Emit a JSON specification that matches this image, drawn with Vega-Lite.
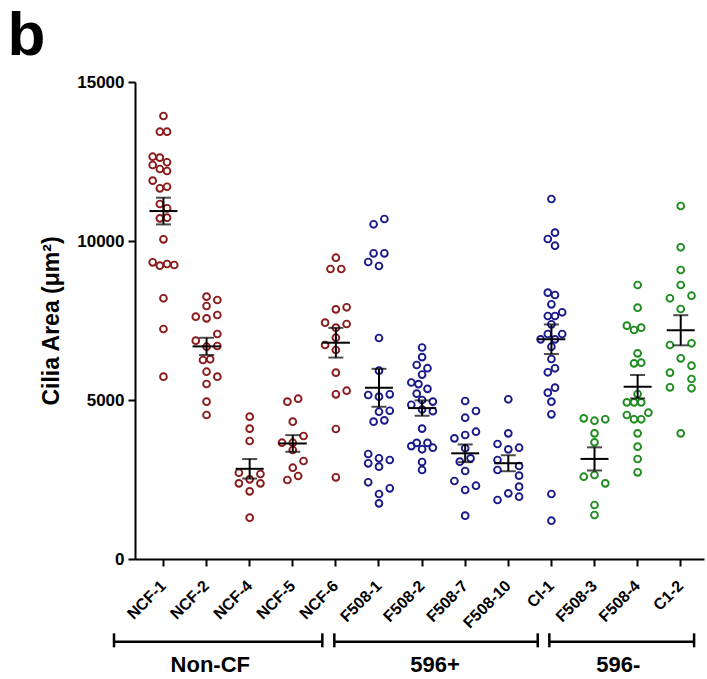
{
  "$schema": "https://vega.github.io/schema/vega-lite/v6.json",
  "autosize": {"type": "none"},
  "padding": {"left": 135, "top": 82, "right": 3, "bottom": 120},
  "width": 569,
  "height": 477,
  "background": "white",
  "config": {
    "view": {"stroke": null},
    "font": "Liberation Sans",
    "axis": {
      "domainColor": "black", "domainWidth": 2,
      "tickColor": "black", "tickWidth": 2, "tickSize": 7,
      "grid": false,
      "labelColor": "black", "labelFont": "Liberation Sans", "labelFontWeight": "bold",
      "titleColor": "black", "titleFont": "Liberation Sans", "titleFontWeight": "bold"
    }
  },
  "datasets": {
    "cells": [
      {"sample":"NCF-1","group":"Non-CF","area":13931,"slot":0},
      {"sample":"NCF-1","group":"Non-CF","area":13437,"slot":-1},
      {"sample":"NCF-1","group":"Non-CF","area":13437,"slot":1},
      {"sample":"NCF-1","group":"Non-CF","area":12651,"slot":-3},
      {"sample":"NCF-1","group":"Non-CF","area":12620,"slot":-1},
      {"sample":"NCF-1","group":"Non-CF","area":12475,"slot":1},
      {"sample":"NCF-1","group":"Non-CF","area":12390,"slot":-3},
      {"sample":"NCF-1","group":"Non-CF","area":12264,"slot":-1},
      {"sample":"NCF-1","group":"Non-CF","area":12201,"slot":1},
      {"sample":"NCF-1","group":"Non-CF","area":11897,"slot":-3},
      {"sample":"NCF-1","group":"Non-CF","area":11657,"slot":-1},
      {"sample":"NCF-1","group":"Non-CF","area":11707,"slot":1},
      {"sample":"NCF-1","group":"Non-CF","area":11164,"slot":-1},
      {"sample":"NCF-1","group":"Non-CF","area":11028,"slot":1},
      {"sample":"NCF-1","group":"Non-CF","area":10713,"slot":-1},
      {"sample":"NCF-1","group":"Non-CF","area":10733,"slot":1},
      {"sample":"NCF-1","group":"Non-CF","area":10053,"slot":0},
      {"sample":"NCF-1","group":"Non-CF","area":9330,"slot":-3},
      {"sample":"NCF-1","group":"Non-CF","area":9223,"slot":-1},
      {"sample":"NCF-1","group":"Non-CF","area":9277,"slot":1},
      {"sample":"NCF-1","group":"Non-CF","area":9245,"slot":3},
      {"sample":"NCF-1","group":"Non-CF","area":8198,"slot":0},
      {"sample":"NCF-1","group":"Non-CF","area":7233,"slot":0},
      {"sample":"NCF-1","group":"Non-CF","area":5733,"slot":0},
      {"sample":"NCF-2","group":"Non-CF","area":8249,"slot":0},
      {"sample":"NCF-2","group":"Non-CF","area":8145,"slot":3},
      {"sample":"NCF-2","group":"Non-CF","area":7956,"slot":0},
      {"sample":"NCF-2","group":"Non-CF","area":7620,"slot":-3},
      {"sample":"NCF-2","group":"Non-CF","area":7568,"slot":0},
      {"sample":"NCF-2","group":"Non-CF","area":7673,"slot":3},
      {"sample":"NCF-2","group":"Non-CF","area":7075,"slot":3},
      {"sample":"NCF-2","group":"Non-CF","area":6865,"slot":-3},
      {"sample":"NCF-2","group":"Non-CF","area":6676,"slot":0},
      {"sample":"NCF-2","group":"Non-CF","area":6698,"slot":3},
      {"sample":"NCF-2","group":"Non-CF","area":6258,"slot":-1},
      {"sample":"NCF-2","group":"Non-CF","area":6280,"slot":1},
      {"sample":"NCF-2","group":"Non-CF","area":5890,"slot":0},
      {"sample":"NCF-2","group":"Non-CF","area":5733,"slot":3},
      {"sample":"NCF-2","group":"Non-CF","area":5503,"slot":0},
      {"sample":"NCF-2","group":"Non-CF","area":4947,"slot":0},
      {"sample":"NCF-2","group":"Non-CF","area":4528,"slot":0},
      {"sample":"NCF-4","group":"Non-CF","area":4476,"slot":0},
      {"sample":"NCF-4","group":"Non-CF","area":4099,"slot":0},
      {"sample":"NCF-4","group":"Non-CF","area":3711,"slot":0},
      {"sample":"NCF-4","group":"Non-CF","area":2714,"slot":-3},
      {"sample":"NCF-4","group":"Non-CF","area":2673,"slot":3},
      {"sample":"NCF-4","group":"Non-CF","area":2505,"slot":0},
      {"sample":"NCF-4","group":"Non-CF","area":2379,"slot":-3},
      {"sample":"NCF-4","group":"Non-CF","area":2379,"slot":3},
      {"sample":"NCF-4","group":"Non-CF","area":2128,"slot":0},
      {"sample":"NCF-4","group":"Non-CF","area":1299,"slot":0},
      {"sample":"NCF-5","group":"Non-CF","area":4947,"slot":-1.5},
      {"sample":"NCF-5","group":"Non-CF","area":5041,"slot":1.5},
      {"sample":"NCF-5","group":"Non-CF","area":4318,"slot":0},
      {"sample":"NCF-5","group":"Non-CF","area":3868,"slot":3},
      {"sample":"NCF-5","group":"Non-CF","area":3657,"slot":-3},
      {"sample":"NCF-5","group":"Non-CF","area":3657,"slot":0},
      {"sample":"NCF-5","group":"Non-CF","area":3428,"slot":0},
      {"sample":"NCF-5","group":"Non-CF","area":3082,"slot":3},
      {"sample":"NCF-5","group":"Non-CF","area":2871,"slot":0},
      {"sample":"NCF-5","group":"Non-CF","area":2610,"slot":1.5},
      {"sample":"NCF-5","group":"Non-CF","area":2484,"slot":-1.5},
      {"sample":"NCF-6","group":"Non-CF","area":9475,"slot":0},
      {"sample":"NCF-6","group":"Non-CF","area":9119,"slot":-1.5},
      {"sample":"NCF-6","group":"Non-CF","area":9119,"slot":1.5},
      {"sample":"NCF-6","group":"Non-CF","area":7851,"slot":0},
      {"sample":"NCF-6","group":"Non-CF","area":7915,"slot":3},
      {"sample":"NCF-6","group":"Non-CF","area":7431,"slot":-3},
      {"sample":"NCF-6","group":"Non-CF","area":7274,"slot":0},
      {"sample":"NCF-6","group":"Non-CF","area":7390,"slot":3},
      {"sample":"NCF-6","group":"Non-CF","area":6730,"slot":-3},
      {"sample":"NCF-6","group":"Non-CF","area":6959,"slot":0},
      {"sample":"NCF-6","group":"Non-CF","area":6572,"slot":0},
      {"sample":"NCF-6","group":"Non-CF","area":5859,"slot":0},
      {"sample":"NCF-6","group":"Non-CF","area":5179,"slot":0},
      {"sample":"NCF-6","group":"Non-CF","area":5292,"slot":3},
      {"sample":"NCF-6","group":"Non-CF","area":4088,"slot":0},
      {"sample":"NCF-6","group":"Non-CF","area":2569,"slot":0},
      {"sample":"F508-1","group":"596+","area":10525,"slot":-1.5},
      {"sample":"F508-1","group":"596+","area":10692,"slot":1.5},
      {"sample":"F508-1","group":"596+","area":9613,"slot":-1.5},
      {"sample":"F508-1","group":"596+","area":9613,"slot":1.5},
      {"sample":"F508-1","group":"596+","area":9340,"slot":-3},
      {"sample":"F508-1","group":"596+","area":9214,"slot":0},
      {"sample":"F508-1","group":"596+","area":6950,"slot":0},
      {"sample":"F508-1","group":"596+","area":5922,"slot":0},
      {"sample":"F508-1","group":"596+","area":5157,"slot":-3},
      {"sample":"F508-1","group":"596+","area":5104,"slot":0},
      {"sample":"F508-1","group":"596+","area":5179,"slot":3},
      {"sample":"F508-1","group":"596+","area":4632,"slot":0},
      {"sample":"F508-1","group":"596+","area":4663,"slot":3},
      {"sample":"F508-1","group":"596+","area":4318,"slot":-1.5},
      {"sample":"F508-1","group":"596+","area":4361,"slot":1.5},
      {"sample":"F508-1","group":"596+","area":3302,"slot":-3},
      {"sample":"F508-1","group":"596+","area":3167,"slot":0},
      {"sample":"F508-1","group":"596+","area":3113,"slot":3},
      {"sample":"F508-1","group":"596+","area":3009,"slot":-3},
      {"sample":"F508-1","group":"596+","area":2903,"slot":0},
      {"sample":"F508-1","group":"596+","area":2412,"slot":-3},
      {"sample":"F508-1","group":"596+","area":2044,"slot":0},
      {"sample":"F508-1","group":"596+","area":2223,"slot":3},
      {"sample":"F508-1","group":"596+","area":1751,"slot":0},
      {"sample":"F508-2","group":"596+","area":6650,"slot":0},
      {"sample":"F508-2","group":"596+","area":6350,"slot":0},
      {"sample":"F508-2","group":"596+","area":6100,"slot":-1.5},
      {"sample":"F508-2","group":"596+","area":6000,"slot":1.5},
      {"sample":"F508-2","group":"596+","area":5800,"slot":0},
      {"sample":"F508-2","group":"596+","area":5550,"slot":-3},
      {"sample":"F508-2","group":"596+","area":5500,"slot":-1},
      {"sample":"F508-2","group":"596+","area":5350,"slot":1.5},
      {"sample":"F508-2","group":"596+","area":5200,"slot":-1.5},
      {"sample":"F508-2","group":"596+","area":5000,"slot":0},
      {"sample":"F508-2","group":"596+","area":4950,"slot":3},
      {"sample":"F508-2","group":"596+","area":4850,"slot":-3},
      {"sample":"F508-2","group":"596+","area":4700,"slot":0},
      {"sample":"F508-2","group":"596+","area":4650,"slot":3},
      {"sample":"F508-2","group":"596+","area":4100,"slot":0},
      {"sample":"F508-2","group":"596+","area":3650,"slot":-1.5},
      {"sample":"F508-2","group":"596+","area":3650,"slot":1.5},
      {"sample":"F508-2","group":"596+","area":3550,"slot":-3},
      {"sample":"F508-2","group":"596+","area":3500,"slot":3},
      {"sample":"F508-2","group":"596+","area":3450,"slot":0},
      {"sample":"F508-2","group":"596+","area":3050,"slot":0},
      {"sample":"F508-2","group":"596+","area":2800,"slot":0},
      {"sample":"F508-7","group":"596+","area":4969,"slot":0},
      {"sample":"F508-7","group":"596+","area":4654,"slot":3},
      {"sample":"F508-7","group":"596+","area":4443,"slot":0},
      {"sample":"F508-7","group":"596+","area":4003,"slot":3},
      {"sample":"F508-7","group":"596+","area":3899,"slot":0},
      {"sample":"F508-7","group":"596+","area":3795,"slot":-3},
      {"sample":"F508-7","group":"596+","area":3481,"slot":0},
      {"sample":"F508-7","group":"596+","area":3166,"slot":1.5},
      {"sample":"F508-7","group":"596+","area":3060,"slot":-1.5},
      {"sample":"F508-7","group":"596+","area":2767,"slot":0},
      {"sample":"F508-7","group":"596+","area":2453,"slot":-3},
      {"sample":"F508-7","group":"596+","area":2305,"slot":3},
      {"sample":"F508-7","group":"596+","area":2170,"slot":0},
      {"sample":"F508-7","group":"596+","area":1362,"slot":0},
      {"sample":"F508-10","group":"596+","area":5022,"slot":0},
      {"sample":"F508-10","group":"596+","area":3951,"slot":0},
      {"sample":"F508-10","group":"596+","area":3616,"slot":-3},
      {"sample":"F508-10","group":"596+","area":3449,"slot":0},
      {"sample":"F508-10","group":"596+","area":3500,"slot":3},
      {"sample":"F508-10","group":"596+","area":3113,"slot":-3},
      {"sample":"F508-10","group":"596+","area":2925,"slot":3},
      {"sample":"F508-10","group":"596+","area":2799,"slot":-3},
      {"sample":"F508-10","group":"596+","area":2620,"slot":3},
      {"sample":"F508-10","group":"596+","area":2274,"slot":3},
      {"sample":"F508-10","group":"596+","area":2065,"slot":0},
      {"sample":"F508-10","group":"596+","area":1959,"slot":3},
      {"sample":"F508-10","group":"596+","area":1855,"slot":-3},
      {"sample":"CI-1","group":"596+","area":11321,"slot":0},
      {"sample":"CI-1","group":"596+","area":10262,"slot":1},
      {"sample":"CI-1","group":"596+","area":10063,"slot":-1},
      {"sample":"CI-1","group":"596+","area":9852,"slot":1},
      {"sample":"CI-1","group":"596+","area":8375,"slot":-1},
      {"sample":"CI-1","group":"596+","area":8302,"slot":1},
      {"sample":"CI-1","group":"596+","area":8009,"slot":0},
      {"sample":"CI-1","group":"596+","area":7642,"slot":-1},
      {"sample":"CI-1","group":"596+","area":7642,"slot":1},
      {"sample":"CI-1","group":"596+","area":7758,"slot":3},
      {"sample":"CI-1","group":"596+","area":7380,"slot":0},
      {"sample":"CI-1","group":"596+","area":7075,"slot":-1},
      {"sample":"CI-1","group":"596+","area":7075,"slot":3},
      {"sample":"CI-1","group":"596+","area":6907,"slot":-3},
      {"sample":"CI-1","group":"596+","area":6907,"slot":1},
      {"sample":"CI-1","group":"596+","area":6676,"slot":0},
      {"sample":"CI-1","group":"596+","area":6289,"slot":0},
      {"sample":"CI-1","group":"596+","area":5997,"slot":1},
      {"sample":"CI-1","group":"596+","area":5871,"slot":-1},
      {"sample":"CI-1","group":"596+","area":5387,"slot":1},
      {"sample":"CI-1","group":"596+","area":5230,"slot":-1},
      {"sample":"CI-1","group":"596+","area":4947,"slot":0},
      {"sample":"CI-1","group":"596+","area":4550,"slot":0},
      {"sample":"CI-1","group":"596+","area":2044,"slot":0},
      {"sample":"CI-1","group":"596+","area":1204,"slot":0},
      {"sample":"F508-3","group":"596-","area":4424,"slot":-3},
      {"sample":"F508-3","group":"596-","area":4349,"slot":0},
      {"sample":"F508-3","group":"596-","area":4393,"slot":3},
      {"sample":"F508-3","group":"596-","area":3951,"slot":0},
      {"sample":"F508-3","group":"596-","area":3668,"slot":0},
      {"sample":"F508-3","group":"596-","area":2588,"slot":-3},
      {"sample":"F508-3","group":"596-","area":2642,"slot":0},
      {"sample":"F508-3","group":"596-","area":2379,"slot":3},
      {"sample":"F508-3","group":"596-","area":1698,"slot":0},
      {"sample":"F508-3","group":"596-","area":1384,"slot":0},
      {"sample":"F508-4","group":"596-","area":8616,"slot":0},
      {"sample":"F508-4","group":"596-","area":7903,"slot":0},
      {"sample":"F508-4","group":"596-","area":7338,"slot":-3},
      {"sample":"F508-4","group":"596-","area":7201,"slot":-1},
      {"sample":"F508-4","group":"596-","area":7274,"slot":1},
      {"sample":"F508-4","group":"596-","area":6468,"slot":0},
      {"sample":"F508-4","group":"596-","area":6153,"slot":-1},
      {"sample":"F508-4","group":"596-","area":6174,"slot":1},
      {"sample":"F508-4","group":"596-","area":5189,"slot":0},
      {"sample":"F508-4","group":"596-","area":4927,"slot":-3},
      {"sample":"F508-4","group":"596-","area":4927,"slot":-1},
      {"sample":"F508-4","group":"596-","area":4927,"slot":1},
      {"sample":"F508-4","group":"596-","area":4528,"slot":-3},
      {"sample":"F508-4","group":"596-","area":4393,"slot":-1},
      {"sample":"F508-4","group":"596-","area":4393,"slot":1},
      {"sample":"F508-4","group":"596-","area":4601,"slot":3},
      {"sample":"F508-4","group":"596-","area":3951,"slot":0},
      {"sample":"F508-4","group":"596-","area":3532,"slot":0},
      {"sample":"F508-4","group":"596-","area":3145,"slot":0},
      {"sample":"F508-4","group":"596-","area":2726,"slot":0},
      {"sample":"C1-2","group":"596-","area":11101,"slot":0},
      {"sample":"C1-2","group":"596-","area":9802,"slot":0},
      {"sample":"C1-2","group":"596-","area":9088,"slot":0},
      {"sample":"C1-2","group":"596-","area":8616,"slot":0},
      {"sample":"C1-2","group":"596-","area":8198,"slot":-3},
      {"sample":"C1-2","group":"596-","area":8280,"slot":3},
      {"sample":"C1-2","group":"596-","area":7862,"slot":0},
      {"sample":"C1-2","group":"596-","area":6730,"slot":-3},
      {"sample":"C1-2","group":"596-","area":6783,"slot":3},
      {"sample":"C1-2","group":"596-","area":6311,"slot":0},
      {"sample":"C1-2","group":"596-","area":6079,"slot":3},
      {"sample":"C1-2","group":"596-","area":5859,"slot":-3},
      {"sample":"C1-2","group":"596-","area":5660,"slot":3},
      {"sample":"C1-2","group":"596-","area":5399,"slot":-3},
      {"sample":"C1-2","group":"596-","area":5368,"slot":3},
      {"sample":"C1-2","group":"596-","area":3951,"slot":0}
    ],
    "groups": [
      {"group":"Non-CF","from":-1.147,"to":3.686,"mid":1.087},
      {"group":"596+","from":3.964,"to":8.683,"mid":6.30},
      {"group":"596-","from":8.952,"to":12.31,"mid":10.553}
    ],
    "panel": [
      {"label":"b"}
    ]
  },
  "layer": [
    {
      "data": {"name": "cells"},
      "encoding": {
        "x": {
          "field": "sample", "type": "nominal",
          "sort": ["NCF-1","NCF-2","NCF-4","NCF-5","NCF-6","F508-1","F508-2","F508-7","F508-10","CI-1","F508-3","F508-4","C1-2"],
          "scale": {"paddingInner": 0, "paddingOuter": 0.1, "align": 0.8},
          "axis": {"title": null, "labelAngle": -45, "labelAlign": "right", "labelBaseline": "middle", "labelFontSize": 16, "labelPadding": 17}
        },
        "y": {
          "field": "area", "type": "quantitative",
          "scale": {"domain": [0, 15000], "nice": false, "zero": true},
          "axis": {"values": [0, 5000, 10000, 15000], "format": "d", "title": "Cilia Area (μm²)", "labelFontSize": 17, "labelPadding": 4, "titleFontSize": 23, "titlePadding": 13}
        }
      },
      "layer": [
        {
          "mark": {"type": "point", "shape": "circle", "filled": false, "size": 46, "strokeWidth": 1.9, "opacity": 1},
          "encoding": {
            "xOffset": {"field": "slot", "type": "quantitative", "scale": {"domain": [-6, 6]}},
            "color": {"field": "group", "type": "nominal", "scale": {"domain": ["Non-CF", "596+", "596-"], "range": ["#8b1a1a", "#1a1a8b", "#1e8c1e"]}, "legend": null}
          }
        },
        {
          "mark": {"type": "errorbar", "extent": "stderr", "color": "black", "ticks": {"size": 15, "thickness": 2, "color": "black"}, "rule": {"strokeWidth": 2, "color": "black"}}
        },
        {
          "mark": {"type": "tick", "size": 28, "thickness": 2, "color": "black"},
          "encoding": {"y": {"aggregate": "mean", "field": "area", "type": "quantitative"}}
        }
      ]
    },
    {
      "layer": [
        {
          "data": {"name": "groups"},
          "mark": {"type": "rule", "strokeWidth": 2.5, "color": "black"},
          "encoding": {
            "x": {"field": "from", "type": "quantitative", "scale": {"domain": [-0.66, 12.54], "nice": false, "zero": false}, "axis": null},
            "x2": {"field": "to"},
            "y": {"datum": -2600}
          }
        },
        {
          "data": {"name": "groups"},
          "mark": {"type": "rule", "strokeWidth": 2.5, "color": "black"},
          "encoding": {
            "x": {"field": "from", "type": "quantitative"},
            "y": {"datum": -2336},
            "y2": {"datum": -2777}
          }
        },
        {
          "data": {"name": "groups"},
          "mark": {"type": "rule", "strokeWidth": 2.5, "color": "black"},
          "encoding": {
            "x": {"field": "to", "type": "quantitative"},
            "y": {"datum": -2336},
            "y2": {"datum": -2777}
          }
        },
        {
          "data": {"name": "groups"},
          "mark": {"type": "text", "fontSize": 22, "fontWeight": "bold", "font": "Liberation Sans", "color": "black", "baseline": "middle", "align": "center"},
          "encoding": {
            "x": {"field": "mid", "type": "quantitative"},
            "y": {"datum": -3333},
            "text": {"field": "group"}
          }
        },
        {
          "data": {"name": "panel"},
          "mark": {"type": "text", "fontSize": 62, "fontWeight": "bold", "font": "Liberation Sans", "color": "black", "baseline": "alphabetic", "align": "center"},
          "encoding": {
            "x": {"datum": -3.18},
            "y": {"datum": 15849},
            "text": {"field": "label"}
          }
        }
      ],
      "resolve": {"scale": {"x": "shared"}}
    }
  ],
  "resolve": {"scale": {"x": "independent"}, "axis": {"x": "independent"}}
}
